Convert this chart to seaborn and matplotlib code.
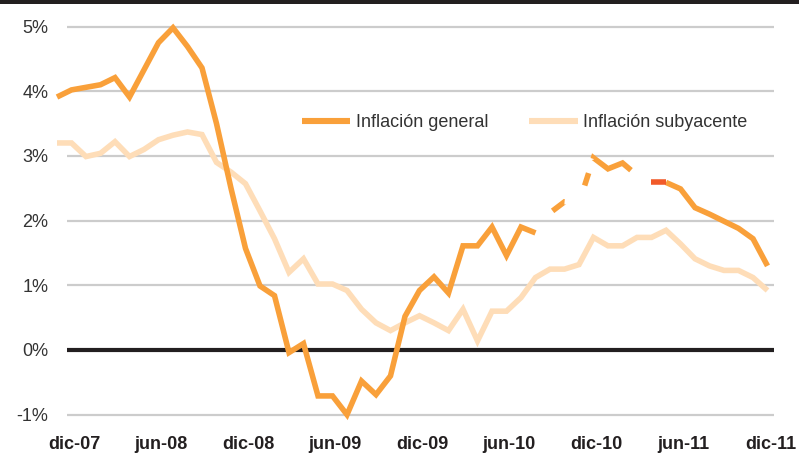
import numpy as np
import pandas as pd
import matplotlib
matplotlib.use("Agg")
import matplotlib.pyplot as plt
from matplotlib.lines import Line2D
from matplotlib.patches import Rectangle
import seaborn as sns

# Datos mensuales: nov-07 .. dic-11 (50 meses)
general = [3.91, 4.02, 4.06, 4.10, 4.21, 3.91, 4.33, 4.75, 4.98, 4.69,
           4.36, 3.50, 2.50, 1.57, 0.99, 0.84, -0.04, 0.10, -0.71, -0.71,
           -1.00, -0.48, -0.69, -0.40, 0.52, 0.92, 1.13, 0.88, 1.61, 1.61,
           1.90, 1.46, 1.90, 1.81, 2.12, 2.29, 2.27, 2.97, 2.80, 2.89,
           2.70, 2.59, 2.59, 2.49, 2.20, 2.10, 1.99, 1.88, 1.72, 1.30]
subyacente = [3.20, 3.20, 2.99, 3.04, 3.22, 2.99, 3.10, 3.25, 3.32, 3.37,
              3.33, 2.90, 2.75, 2.57, 2.15, 1.72, 1.20, 1.41, 1.02, 1.02,
              0.92, 0.63, 0.42, 0.30, 0.42, 0.53, 0.42, 0.30, 0.63, 0.14,
              0.60, 0.60, 0.81, 1.12, 1.25, 1.25, 1.32, 1.74, 1.61, 1.61,
              1.74, 1.74, 1.85, 1.64, 1.41, 1.30, 1.23, 1.23, 1.12, 0.92]
tick_labels = ["dic-07", "jun-08", "dic-08", "jun-09", "dic-09",
               "jun-10", "dic-10", "jun-11", "dic-11"]
y_ticks = [-1, 0, 1, 2, 3, 4, 5]

# tramos de la serie general
fin_solido = 33      # hasta aqui linea continua
fin_discontinuo = 40  # tramo discontinuo
tramo_rojo = (41, 42)

NARANJA = "#F9A03A"
CLARO = "#FEDDB8"
ROJO = "#F15A29"
OSCURO = "#231F20"

sns.set_theme(style="white")
plt.rcParams["font.family"] = ["Liberation Sans", "DejaVu Sans"]
plt.rcParams["lines.scale_dashes"] = False

df = pd.DataFrame({"mes": np.arange(len(general)),
                   "general": general,
                   "subyacente": subyacente})

W, H = 799, 455
fig = plt.figure(figsize=(W / 100, H / 100), dpi=100)
fig.patch.set_facecolor("white")
ax = fig.add_axes([67 / W, (H - 424.4) / H, (774 - 67) / W, 407.6 / H])

# barra superior oscura
fig.patches.append(Rectangle((0, 1 - 3.5 / H), 1, 3.5 / H, transform=fig.transFigure,
                             facecolor=OSCURO, edgecolor="none"))

for v in y_ticks:
    if v == 0:
        ax.axhline(0, color=OSCURO, lw=3, zorder=1)
    else:
        ax.axhline(v, color="#CCCCCC", lw=1.6, zorder=0)

lw = 4
comun = dict(lw=lw, clip_on=False, solid_capstyle="butt", solid_joinstyle="miter")

sns.lineplot(data=df, x="mes", y="subyacente", color=CLARO, ax=ax, zorder=2, **comun)

sns.lineplot(data=df.iloc[:fin_solido + 1], x="mes", y="general", color=NARANJA,
             ax=ax, zorder=3, **comun)
px = 0.72  # pt por pixel
patron = [v * px for v in (15, 33, 13, 15, 46, 40)]
sns.lineplot(data=df.iloc[fin_solido:fin_discontinuo + 1], x="mes", y="general",
             color=NARANJA, ax=ax, zorder=3, lw=lw, clip_on=False,
             linestyle=(134 * px, patron), dash_capstyle="butt", dash_joinstyle="miter")
sns.lineplot(data=df.iloc[tramo_rojo[0]:tramo_rojo[1] + 1], x="mes", y="general",
             color=ROJO, ax=ax, zorder=4, **comun)
sns.lineplot(data=df.iloc[tramo_rojo[1]:], x="mes", y="general", color=NARANJA,
             ax=ax, zorder=3, **comun)

ax.set_xlim((67 - 57) / 14.5, (774 - 57) / 14.5)
ax.set_ylim(-1.15, 5.15)
ax.set_xticks([1.2 + 6 * k for k in range(len(tick_labels))])
ax.set_xticklabels(tick_labels, fontsize=13, fontweight="bold", color=OSCURO)
ax.set_yticks(y_ticks)
ax.set_yticklabels([f"{v}%" for v in y_ticks], fontsize=13, color="#333333")
ax.tick_params(axis="x", length=0, pad=8)
ax.tick_params(axis="y", length=0, pad=13.5)
ax.set_xlabel("")
ax.set_ylabel("")
ax.grid(False)
for s in ax.spines.values():
    s.set_visible(False)
ax.patch.set_alpha(0)

handles = [Line2D([], [], color=NARANJA, lw=4.4, solid_capstyle="butt"),
           Line2D([], [], color=CLARO, lw=4.4, solid_capstyle="butt")]
fig.legend(handles, ["Inflación general", "Inflación subyacente"],
           loc="center left", bbox_to_anchor=(302 / W, 1 - 123 / H), ncol=2,
           frameon=False, fontsize=13, handlelength=2.66, handletextpad=0.33,
           columnspacing=2.27, borderpad=0, borderaxespad=0,
           labelcolor="#333333")

fig.savefig("out.png", dpi=100)
